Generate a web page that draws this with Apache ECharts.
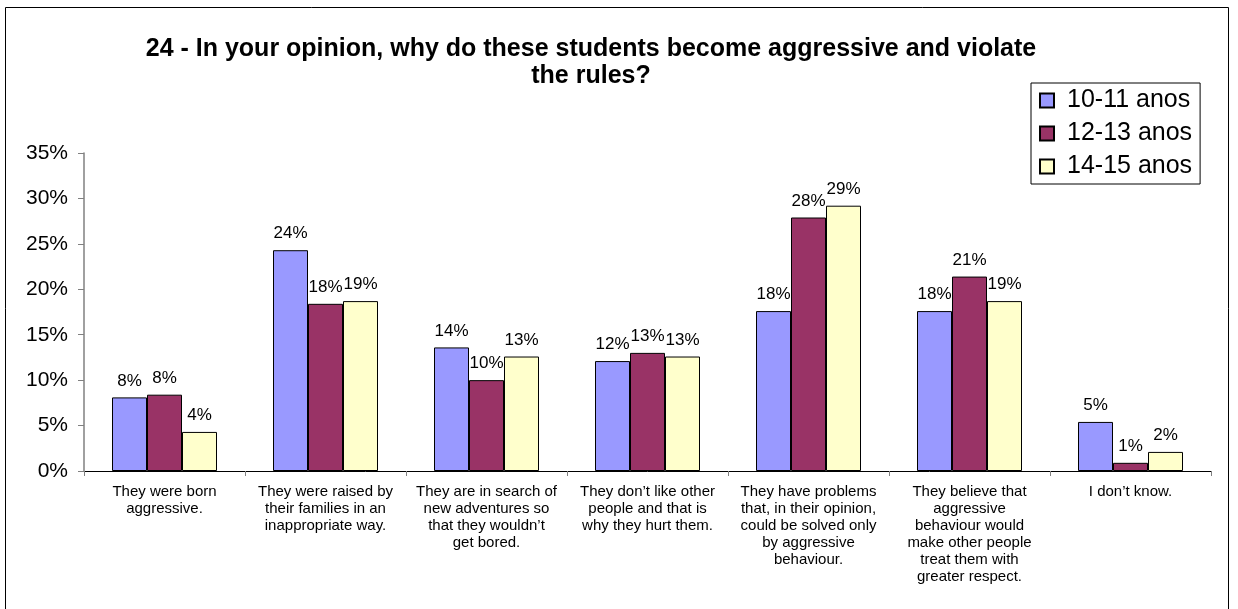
<!DOCTYPE html>
<html>
<head>
<meta charset="utf-8">
<script src="https://cdn.jsdelivr.net/npm/echarts@6/dist/echarts.min.js"></script>
<style>html,body{margin:0;padding:0;background:#fff}#c{width:1238px;height:609px}</style>
</head>
<body>
<div id="c"></div>
<script>
const titleText = "24 - In your opinion, why do these students become aggressive and violate\nthe rules?";
const categories = [
  "They were born\naggressive.",
  "They were raised by\ntheir families in an\ninappropriate way.",
  "They are in search of\nnew adventures so\nthat they wouldn\u2019t\nget bored.",
  "They don\u2019t like other\npeople and that is\nwhy they hurt them.",
  "They have problems\nthat, in their opinion,\ncould be solved only\nby aggressive\nbehaviour.",
  "They believe that\naggressive\nbehaviour would\nmake other people\ntreat them with\ngreater respect.",
  "I don\u2019t know."
];
const seriesNames = ["10-11 anos", "12-13 anos", "14-15 anos"];
const age10_11 = [8.1, 24.3, 13.6, 12.1, 17.6, 17.6, 5.4];
const age12_13 = [8.4, 18.4, 10.0, 13.0, 27.9, 21.4, 0.9];
const age14_15 = [4.3, 18.7, 12.6, 12.6, 29.2, 18.7, 2.1];
const yTicks = [0, 5, 10, 15, 20, 25, 30, 35];

const colors = ["#9999FF", "#993366", "#FFFFCC"];
const font = "Liberation Sans, Arial, sans-serif";
const chart = echarts.init(document.getElementById('c'));
const mk = (name, data, color) => ({
  name, type: 'bar', data, barWidth: 35, barGap: '0%',
  itemStyle: { color, borderColor: '#000', borderWidth: 1 },
  label: { show: true, position: 'top', distance: 8, color: '#000', fontFamily: font, fontSize: 17,
    formatter: p => Math.round(p.value) + '%' }
});
chart.setOption({
  animation: false,
  textStyle: { fontFamily: font },
  graphic: [{ type: 'rect', shape: { x: 5.5, y: 7.5, width: 1223, height: 610 },
    style: { fill: 'none', stroke: '#000', lineWidth: 1 }, silent: true }],
  title: { text: titleText, left: 586, top: 31, textAlign: 'center',
    textStyle: { fontFamily: font, fontSize: 25, fontWeight: 'bold', color: '#000', lineHeight: 27 } },
  legend: { orient: 'vertical', left: 1031, top: 83, data: seriesNames, icon: 'rect',
    itemWidth: 14, itemHeight: 14, itemGap: 8, padding: [5, 8, 5, 8],
    borderColor: '#000', borderWidth: 1,
    textStyle: { fontFamily: font, fontSize: 25, color: '#000', padding: [0, 0, 0, 8] } },
  grid: { left: 84, right: 27, top: 153, bottom: 138 },
  xAxis: { type: 'category', data: categories,
    axisLine: { lineStyle: { color: '#000', width: 1 } },
    axisTick: { show: true, alignWithLabel: false, length: 5, lineStyle: { color: '#808080' } },
    axisLabel: { interval: 0, color: '#000', fontFamily: font, fontSize: 15, lineHeight: 17, margin: 12 } },
  yAxis: { type: 'value', min: yTicks[0], max: yTicks[yTicks.length - 1], interval: 5,
    splitLine: { show: false },
    axisLine: { show: true, lineStyle: { color: '#808080', width: 1.5 } },
    axisTick: { show: true, length: 6, lineStyle: { color: '#808080' } },
    axisLabel: { formatter: '{value}%', color: '#000', fontFamily: font, fontSize: 21, margin: 16 } },
  series: [mk(seriesNames[0], age10_11, colors[0]), mk(seriesNames[1], age12_13, colors[1]), mk(seriesNames[2], age14_15, colors[2])]
});
</script>
</body>
</html>
